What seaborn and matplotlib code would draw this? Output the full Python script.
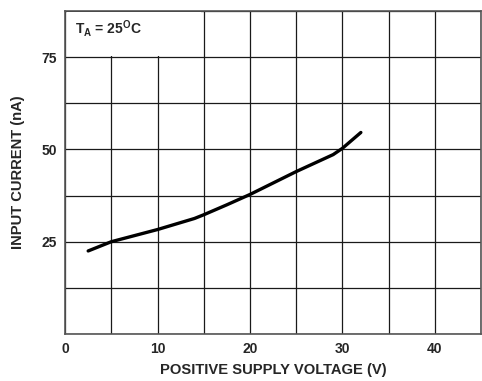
import seaborn as sns
import numpy as np
import pandas as pd
import matplotlib
matplotlib.use("Agg")
import matplotlib.pyplot as plt
from matplotlib.patches import Rectangle

# values
voltage = [2.5, 5, 10, 14, 15, 17.5, 20, 25, 29, 30, 32]
current = [22.5, 25, 28.3, 31.3, 32.3, 35.0, 37.8, 44.0, 48.6, 50.3, 54.6]
xticks = [0, 10, 20, 30, 40]
yticks = [25, 50, 75]

sns.set_style("white")
plt.rcParams['font.family'] = ['Liberation Sans', 'DejaVu Sans']
plt.rcParams['font.weight'] = 'bold'
plt.rcParams['mathtext.default'] = 'regular'

data = pd.DataFrame({"v": voltage, "i": current})

fig = plt.figure(figsize=(4.82, 3.81), dpi=100)
ax = fig.add_axes([0.135, 0.1234, 0.863, 0.8476])

sns.lineplot(data=data, x="v", y="i", ax=ax, color="black", linewidth=2.4, zorder=3)

ax.set_xlim(0, 45)
ax.set_ylim(0, 87.5)
ax.set_xticks(np.arange(0, 46, 5), minor=True)
ax.set_yticks(np.arange(0, 88, 12.5), minor=True)
ax.set_xticks(xticks)
ax.set_yticks(yticks)
ax.grid(True, which="both", color="#1a1a1a", linewidth=0.9)
ax.tick_params(which="both", length=0, labelsize=10, pad=6)
for lab in ax.get_xticklabels() + ax.get_yticklabels():
    lab.set_fontweight("bold")
for s in ax.spines.values():
    s.set_color("#555555")
    s.set_linewidth(1.2)

# white box behind the temperature note
ax.add_patch(Rectangle((0.2, 75.2), 14.5, 12.1, facecolor="white", edgecolor="none", zorder=2.5))
ax.text(1.1, 82.8, r"T$_{A}$ = 25$^{O}$C", fontsize=10, fontweight="bold", va="center", zorder=4)

ax.set_xlabel("POSITIVE SUPPLY VOLTAGE (V)", fontsize=10.6, fontweight="bold", labelpad=5)
ax.set_ylabel("INPUT CURRENT (nA)", fontsize=10.6, fontweight="bold", labelpad=12)

plt.savefig("out.png", dpi=100)
